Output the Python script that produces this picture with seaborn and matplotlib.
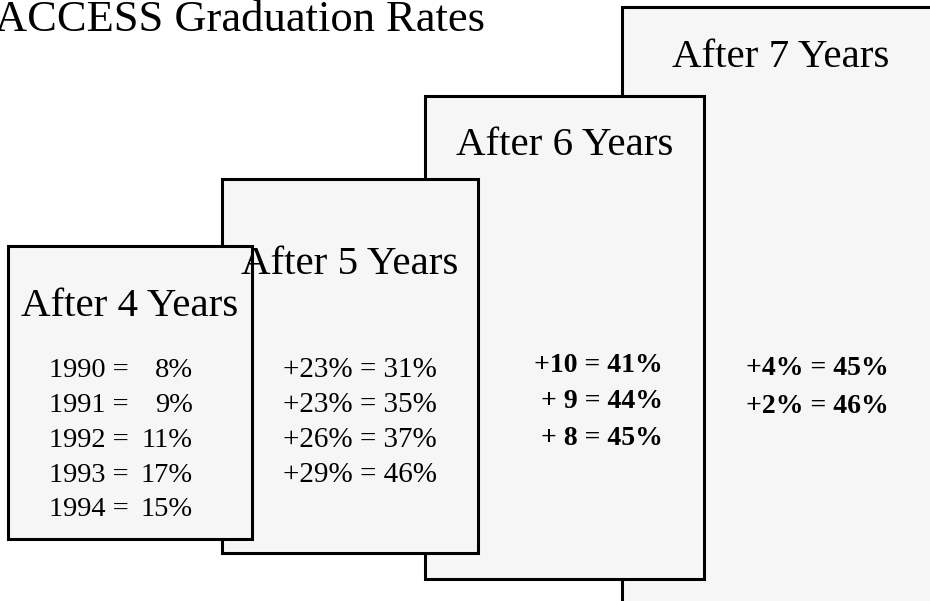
import matplotlib
matplotlib.use("Agg")
import matplotlib.pyplot as plt
from matplotlib.patches import Rectangle
import seaborn as sns

# ---- data ----
title = "ACCESS Graduation Rates"
headings = ["After 4 Years", "After 5 Years", "After 6 Years", "After 7 Years"]
years = [1990, 1991, 1992, 1993, 1994]
rate_4yr = [8, 9, 11, 17, 15]
gain_5yr = [23, 23, 26, 29]
rate_5yr = [31, 35, 37, 46]
gain_6yr = [10, 9, 8]
rate_6yr = [41, 44, 45]
gain_7yr = [4, 2]
rate_7yr = [45, 46]

sns.set_theme(style="white")
plt.rcParams['font.family'] = ['Liberation Serif', 'DejaVu Serif']
plt.rcParams['text.color'] = 'black'

fig = plt.figure(figsize=(9.3, 6.01), dpi=100)
ax = fig.add_axes([0, 0, 1, 1])
ax.set_xlim(0, 930)
ax.set_ylim(601, 0)
ax.axis("off")

fill = "#f6f6f6"
lw = 2.2
# boxes: (x0, y0, x1, y1), drawn back to front
boxes = [(622, 7, 945, 615), (425, 96, 704, 579), (222, 179, 478, 553), (8, 246, 252, 539)]
for (x0, y0, x1, y1) in boxes:
    ax.add_patch(Rectangle((x0, y0), x1 - x0, y1 - y0, facecolor=fill,
                           edgecolor="black", linewidth=lw, clip_on=False))

# title
ax.text(485, 31, title, ha="right", va="baseline", fontsize=32, color="black")

head_pos = [(130, 316), (350, 274), (565, 155), (781, 67)]
for h, (x, y) in zip(headings, head_pos):
    ax.text(x, y, h, ha="center", va="baseline", fontsize=29.5, color="black")

num_fs = 21
# box 4
base4 = [377, 412, 447, 482, 516]
for yr, r, y in zip(years, rate_4yr, base4):
    ax.text(49, y, f"{yr} =", ha="left", va="baseline", fontsize=20.5, color="black")
    ax.text(193, y, f"{r}%", ha="right", va="baseline", fontsize=20.5, color="black")

# box 5
for g, r, y in zip(gain_5yr, rate_5yr, base4[:4]):
    ax.text(360, y, f"+{g}% = {r}%", ha="center", va="baseline", fontsize=num_fs,
            color="black")

# box 6
base6 = [372, 408, 445]
for g, r, y in zip(gain_6yr, rate_6yr, base6):
    lab = f"+{g}" if g >= 10 else f"+ {g}"
    ax.text(663, y, f"{lab} = {r}%", ha="right", va="baseline", fontsize=20,
            fontweight="bold", color="black")

# box 7
base7 = [375, 413]
for g, r, y in zip(gain_7yr, rate_7yr, base7):
    ax.text(817, y, f"+{g}% = {r}%", ha="center", va="baseline", fontsize=20,
            fontweight="bold", color="black")

fig.savefig("out.png", dpi=100, facecolor="white")
